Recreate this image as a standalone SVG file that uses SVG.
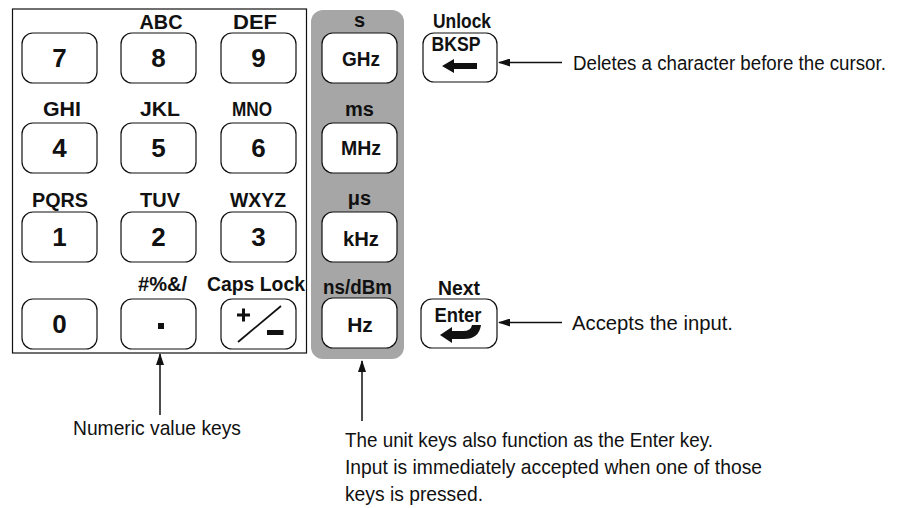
<svg xmlns="http://www.w3.org/2000/svg" width="906" height="508" viewBox="0 0 906 508">
<style>
.key{fill:#fff;stroke:#111;stroke-width:1.2}
.lbl{font-family:"Liberation Sans",Arial,sans-serif;font-weight:bold;font-size:20px;fill:#111;text-anchor:middle}
.dig{font-family:"Liberation Sans",Arial,sans-serif;font-weight:bold;font-size:26px;fill:#111;text-anchor:middle}
.unit{font-family:"Liberation Sans",Arial,sans-serif;font-weight:bold;font-size:21px;fill:#111;text-anchor:middle}
.desc{font-family:"Liberation Sans",Arial,sans-serif;font-size:21px;fill:#111}
.conn{stroke:#111;stroke-width:1.5;fill:none}
</style>
<defs>
<marker id="ah" viewBox="0 0 12 8" refX="11" refY="4" markerWidth="12" markerHeight="8" markerUnits="userSpaceOnUse" orient="auto">
<path d="M0,0 L12,4 L0,8 Z" fill="#111"/>
</marker>
</defs>
<rect id="numeric-box" x="12.5" y="9" width="294" height="344" fill="none" stroke="#111" stroke-width="1.2"/>
<rect id="unit-panel" x="311" y="10" width="93" height="349" rx="12" fill="#a6a6a6"/>

<g id="key-7"><rect class="key" x="22" y="33" width="75" height="50" rx="11"/><text class="dig" x="59.5" y="67">7</text></g>
<g id="key-8"><text class="lbl" x="161" y="29" textLength="43" lengthAdjust="spacingAndGlyphs">ABC</text><rect class="key" x="121" y="33" width="75" height="50" rx="11"/><text class="dig" x="158.5" y="67">8</text></g>
<g id="key-9"><text class="lbl" x="255" y="29" textLength="44" lengthAdjust="spacingAndGlyphs">DEF</text><rect class="key" x="221" y="33" width="75" height="50" rx="11"/><text class="dig" x="258.5" y="67">9</text></g>

<g id="key-4"><text class="lbl" x="62" y="116" textLength="38" lengthAdjust="spacingAndGlyphs">GHI</text><rect class="key" x="22" y="123" width="75" height="50" rx="11"/><text class="dig" x="59.5" y="157">4</text></g>
<g id="key-5"><text class="lbl" x="160" y="116" textLength="40" lengthAdjust="spacingAndGlyphs">JKL</text><rect class="key" x="121" y="123" width="75" height="50" rx="11"/><text class="dig" x="158.5" y="157">5</text></g>
<g id="key-6"><text class="lbl" x="252" y="116" textLength="40" lengthAdjust="spacingAndGlyphs">MNO</text><rect class="key" x="221" y="123" width="75" height="50" rx="11"/><text class="dig" x="258.5" y="157">6</text></g>

<g id="key-1"><text class="lbl" x="60" y="207" textLength="56" lengthAdjust="spacingAndGlyphs">PQRS</text><rect class="key" x="22" y="212" width="75" height="50" rx="11"/><text class="dig" x="59.5" y="246">1</text></g>
<g id="key-2"><text class="lbl" x="160" y="207" textLength="40" lengthAdjust="spacingAndGlyphs">TUV</text><rect class="key" x="121" y="212" width="75" height="50" rx="11"/><text class="dig" x="158.5" y="246">2</text></g>
<g id="key-3"><text class="lbl" x="258" y="207" textLength="56" lengthAdjust="spacingAndGlyphs">WXYZ</text><rect class="key" x="221" y="212" width="75" height="50" rx="11"/><text class="dig" x="258.5" y="246">3</text></g>

<g id="key-0"><rect class="key" x="22" y="299" width="75" height="50" rx="11"/><text class="dig" x="59.5" y="333">0</text></g>
<g id="key-dot"><text class="lbl" x="162.5" y="291" textLength="49" lengthAdjust="spacingAndGlyphs">#%&amp;/</text><rect class="key" x="121" y="299" width="75" height="50" rx="11"/><rect x="158" y="323" width="6" height="6" fill="#111"/></g>
<g id="key-plusminus"><text class="lbl" x="256" y="291" textLength="98" lengthAdjust="spacingAndGlyphs">Caps Lock</text><rect class="key" x="221" y="299" width="75" height="50" rx="11"/>
<path d="M237,315 H250 M243.5,308.5 V321.5" stroke="#111" stroke-width="3" fill="none"/>
<path d="M238,342 L281,306" stroke="#111" stroke-width="1.8" fill="none"/>
<rect x="267" y="330" width="16.5" height="5" fill="#111"/></g>

<g id="key-ghz"><text class="lbl" x="359.5" y="27">s</text><rect class="key" x="322" y="33" width="75" height="50" rx="11"/><text class="unit" x="361" y="66" textLength="38" lengthAdjust="spacingAndGlyphs">GHz</text></g>
<g id="key-mhz"><text class="lbl" x="359.5" y="116">ms</text><rect class="key" x="322" y="123" width="75" height="50" rx="11"/><text class="unit" x="361" y="155" textLength="40" lengthAdjust="spacingAndGlyphs">MHz</text></g>
<g id="key-khz"><text class="lbl" x="359.5" y="205">μs</text><rect class="key" x="322" y="212" width="75" height="50" rx="11"/><text class="unit" x="361" y="246" textLength="36" lengthAdjust="spacingAndGlyphs">kHz</text></g>
<g id="key-hz"><text class="lbl" x="357.5" y="294" textLength="69" lengthAdjust="spacingAndGlyphs">ns/dBm</text><rect class="key" x="322" y="298" width="75" height="50" rx="11"/><text class="unit" x="360" y="332">Hz</text></g>

<g id="key-bksp"><text class="lbl" x="462" y="28" textLength="58" lengthAdjust="spacingAndGlyphs">Unlock</text><rect class="key" x="423" y="33" width="74" height="49" rx="11"/><text class="unit" x="456" y="51" textLength="49" lengthAdjust="spacingAndGlyphs">BKSP</text>
<path d="M442,66 L454,59 V63 H477 V69 H454 V73 Z" fill="#111"/></g>
<g id="key-enter"><text class="lbl" x="459" y="295" textLength="42" lengthAdjust="spacingAndGlyphs">Next</text><rect class="key" x="421" y="299" width="76" height="49" rx="11"/><text class="unit" x="458" y="322" textLength="47" lengthAdjust="spacingAndGlyphs">Enter</text>
<path d="M440,335 L452,327 V331 H463 Q471,331 472,325 H481 Q479,339 464,339 H452 V343 Z" fill="#111"/></g>

<g id="connectors">
<line class="conn" x1="562" y1="62.5" x2="499" y2="62.5" marker-end="url(#ah)"/>
<line class="conn" x1="562" y1="322.5" x2="499" y2="322.5" marker-end="url(#ah)"/>
<line class="conn" x1="160" y1="415" x2="160" y2="354" marker-end="url(#ah)"/>
<line class="conn" x1="362" y1="421" x2="362" y2="361" marker-end="url(#ah)"/>
</g>

<g id="descriptions">
<text class="desc" transform="translate(573,70) scale(0.894,1)" x="0" y="0" textLength="350" lengthAdjust="spacingAndGlyphs">Deletes a character before the cursor.</text>
<text class="desc" x="572" y="330" textLength="161" lengthAdjust="spacingAndGlyphs">Accepts the input.</text>
<text class="desc" x="73" y="435" textLength="168" lengthAdjust="spacingAndGlyphs">Numeric value keys</text>
<text class="desc" x="345" y="447" textLength="368" lengthAdjust="spacingAndGlyphs">The unit keys also function as the Enter key.</text>
<text class="desc" x="345" y="474" textLength="417" lengthAdjust="spacingAndGlyphs">Input is immediately accepted when one of those</text>
<text class="desc" x="345" y="501" textLength="138" lengthAdjust="spacingAndGlyphs">keys is pressed.</text>
</g>
</svg>
